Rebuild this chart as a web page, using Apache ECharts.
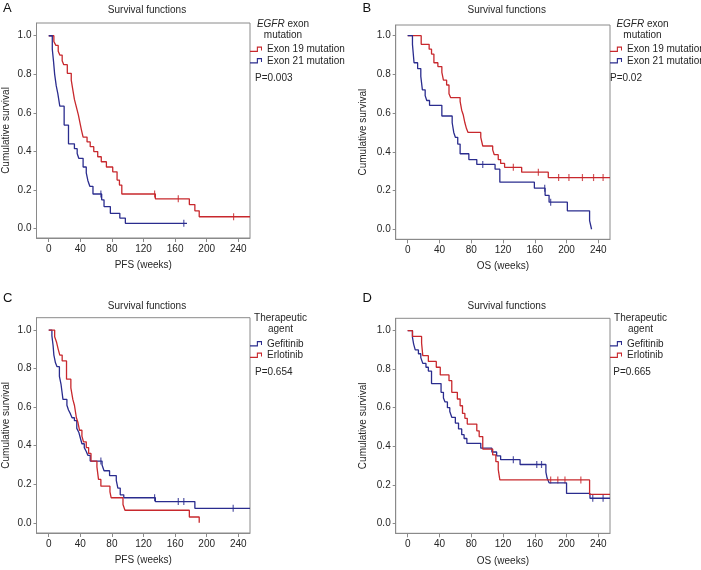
<!DOCTYPE html>
<html><head><meta charset="utf-8">
<script src="https://cdn.jsdelivr.net/npm/echarts@6/dist/echarts.min.js"></script>
<style>html,body{margin:0;padding:0;background:#fff}#c{width:701px;height:570px}</style>
</head><body><div id="c"></div>
<script>
// ---------- data ----------
const xTicks = [0, 40, 80, 120, 160, 200, 240];
const yTicks = [0, 0.2, 0.4, 0.6, 0.8, 1.0];
const mutationNames = ['Exon 19 mutation', 'Exon 21 mutation'];
const agentNames = ['Gefitinib', 'Erlotinib'];
const pValues = ['P=0.003', 'P=0.02', 'P=0.654', 'P=0.665'];
const panelLetters = ['A', 'B', 'C', 'D'];
const xNames = ['PFS (weeks)', 'OS (weeks)', 'PFS (weeks)', 'OS (weeks)'];
const yName = 'Cumulative survival';
const titleText = 'Survival functions';

// Panel A: PFS by EGFR exon mutation  [week, survival]
const aExon19 = [[0,1],[6.5,0.97],[9,0.95],[12,0.92],[14,0.90],[17,0.87],[19,0.85],[23.5,0.805],[28.5,0.77],[30.5,0.72],[32.5,0.67],[35,0.63],[37.5,0.59],[40,0.54],[41.5,0.51],[43.5,0.475],[48.5,0.45],[52.5,0.425],[57,0.40],[62,0.373],[66.5,0.347],[73,0.32],[81,0.295],[86.5,0.252],[89.5,0.226],[92.5,0.18],[135,0.155],[178,0.125],[185,0.093],[190.5,0.062],[254.8,0.062]];
const aExon19Cens = [134, 164, 234];
const aExon21 = [[0,1],[4.5,0.93],[6,0.87],[7.5,0.80],[9.5,0.74],[11.5,0.70],[14,0.635],[19.5,0.537],[25,0.44],[32.5,0.415],[36,0.39],[38,0.365],[43.5,0.32],[47.5,0.29],[49.5,0.25],[52,0.22],[56,0.18],[67,0.15],[70,0.115],[78,0.08],[90,0.055],[97,0.028],[175,0.028]];
const aExon21Cens = [66, 171];

// Panel B: OS by EGFR exon mutation
const bExon19 = [[0,1],[17,0.955],[27,0.93],[30,0.905],[33,0.86],[38,0.84],[43,0.81],[45,0.77],[49,0.745],[52,0.70],[54,0.68],[66,0.66],[68,0.615],[70,0.59],[72,0.55],[74,0.52],[76,0.50],[92,0.475],[94.5,0.43],[107,0.41],[109,0.385],[114,0.36],[117,0.34],[122,0.32],[143.5,0.295],[177,0.267],[254.7,0.267]];
const bExon19Cens = [133, 164.5, 190, 203, 220, 234, 246];
const bExon21 = [[0,1],[6,0.955],[8,0.86],[12.5,0.83],[16.5,0.79],[18.5,0.72],[22,0.69],[24,0.665],[27.5,0.64],[43,0.585],[56,0.55],[58,0.50],[60,0.475],[63,0.44],[66,0.39],[77,0.36],[87,0.335],[110,0.31],[116,0.243],[159.5,0.212],[173,0.175],[178,0.14],[201,0.095],[229,0.045],[231.5,0.0]];
const bExon21Cens = [94.5, 172.5, 180];

// Panel C: PFS by therapeutic agent
const cGefitinib = [[0,1],[4,0.97],[5.5,0.92],[6.5,0.87],[8.5,0.83],[10.5,0.81],[13.5,0.76],[15.5,0.72],[18,0.64],[23,0.61],[25,0.585],[27.5,0.565],[29.5,0.545],[32.5,0.53],[35.5,0.49],[38,0.47],[40,0.44],[42,0.41],[45,0.39],[47.5,0.37],[49.5,0.35],[52.5,0.32],[67.5,0.30],[70,0.27],[77,0.245],[85.5,0.22],[87.5,0.18],[90.5,0.145],[95,0.13],[135,0.11],[185,0.075],[254.8,0.075]];
const cGefitinibCens = [66, 134, 164, 171, 233.5];
const cErlotinib = [[0,1],[7.5,0.965],[10,0.935],[12,0.90],[14,0.87],[17,0.84],[22.5,0.745],[28,0.70],[30.5,0.64],[32.5,0.61],[35,0.545],[37,0.52],[39,0.48],[42,0.45],[44,0.42],[47.5,0.39],[50.5,0.36],[53.5,0.32],[61,0.29],[63,0.225],[66,0.19],[77.5,0.16],[79,0.13],[94,0.095],[96.5,0.065],[178,0.03],[190.5,0.0]];
const cErlotinibCens = [];

// Panel D: OS by therapeutic agent
const dGefitinib = [[0,1],[6,0.965],[7.5,0.93],[9.5,0.90],[13.5,0.88],[16.5,0.86],[19,0.83],[23,0.81],[26,0.79],[30,0.725],[42,0.68],[45,0.65],[47,0.63],[50,0.60],[53,0.58],[55.5,0.55],[60,0.52],[64,0.49],[68,0.46],[71,0.44],[74.5,0.415],[92,0.39],[106,0.37],[112,0.35],[117,0.33],[141.5,0.305],[174,0.265],[175.5,0.235],[178,0.21],[200,0.155],[229.5,0.13],[254.7,0.13]];
const dGefitinibCens = [133, 162.5, 168.5, 233, 246];
const dErlotinib = [[0,1],[6,0.97],[17.5,0.935],[19,0.87],[26,0.84],[36,0.81],[41,0.77],[52,0.74],[55.5,0.68],[62.5,0.645],[66,0.61],[69,0.57],[72,0.545],[75,0.515],[87,0.48],[90,0.45],[94.5,0.385],[107,0.355],[111,0.32],[114,0.28],[116,0.225],[229,0.15],[254.7,0.15]];
const dErlotinibCens = [180, 189, 198, 218];

// ---------- styling / layout ----------
const RED = '#c8282d', BLUE = '#2a2c8e';
const FONT = '"Liberation Sans", Arial, Helvetica, sans-serif';
const AX = '#8a8a8a';
const TXT = '#262626';

const panels = [
  {grid:{left:36,top:23,width:214,height:215}, x:[-15.5,254.8], y:[-0.048,1.066], yGap:25.5, xGap:22,
   groups:[{name:mutationNames[0],color:RED,curve:aExon19,cens:aExon19Cens},{name:mutationNames[1],color:BLUE,curve:aExon21,cens:aExon21Cens}],
   legend:{left:250,top:43.5}, head:['{i|EGFR} exon','mutation'], headX:283, headY:24.3, pX:255, pY:78, letter:[3,8], titleXY:[147,10]},
  {grid:{left:395.7,top:25,width:214.3,height:214.3}, x:[-15.1,254.7], y:[-0.052,1.055], yGap:27, xGap:21.5,
   groups:[{name:mutationNames[0],color:RED,curve:bExon19,cens:bExon19Cens},{name:mutationNames[1],color:BLUE,curve:bExon21,cens:bExon21Cens}],
   legend:{left:610,top:43.5}, head:['{i|EGFR} exon','mutation'], headX:642.5, headY:24.3, pX:610, pY:78, letter:[362.5,8.5], titleXY:[506.7,10]},
  {grid:{left:36,top:317.7,width:214,height:215.3}, x:[-15.5,254.8], y:[-0.053,1.064], yGap:25.5, xGap:22.5,
   groups:[{name:agentNames[0],color:BLUE,curve:cGefitinib,cens:cGefitinibCens},{name:agentNames[1],color:RED,curve:cErlotinib,cens:cErlotinibCens}],
   legend:{left:250,top:338}, head:['Therapeutic','agent'], headX:280.5, headY:318.3, pX:255, pY:372.3, letter:[3,298], titleXY:[147,306]},
  {grid:{left:395.7,top:318.3,width:214.3,height:215}, x:[-15.1,254.7], y:[-0.052,1.064], yGap:27, xGap:22.5,
   groups:[{name:agentNames[0],color:BLUE,curve:dGefitinib,cens:dGefitinibCens},{name:agentNames[1],color:RED,curve:dErlotinib,cens:dErlotinibCens}],
   legend:{left:610,top:338}, head:['Therapeutic','agent'], headX:640.5, headY:318.3, pX:613.3, pY:372.3, letter:[362.5,298], titleXY:[506.7,306]}
];

function survAt(curve, t) {
  let s = curve[0][1];
  for (const p of curve) { if (p[0] <= t) s = p[1]; }
  return s;
}

const legendIcon = 'path://M0,5 H7.4 V0.4 H13 V4.6 H11.9 V1.6 H8.6 V6.2 H0 Z';

const option = {
  backgroundColor: '#fff',
  animation: false,
  grid: [], xAxis: [], yAxis: [], series: [], legend: [], graphic: []
};

panels.forEach((p, i) => {
  option.grid.push(Object.assign({show:true, borderColor:AX, borderWidth:1, containLabel:false}, p.grid));
  option.xAxis.push({
    type:'value', gridIndex:i, min:p.x[0], max:p.x[1],
    name:xNames[i], nameLocation:'middle', nameGap:p.xGap,
    nameTextStyle:{fontSize:10, fontFamily:FONT, color:TXT},
    axisLine:{show:true, onZero:false, lineStyle:{color:AX, width:1}},
    axisTick:{show:true, length:4, customValues:xTicks, lineStyle:{color:AX}},
    axisLabel:{customValues:xTicks, fontSize:10, fontFamily:FONT, color:TXT, margin:6},
    splitLine:{show:false}
  });
  option.yAxis.push({
    type:'value', gridIndex:i, min:p.y[0], max:p.y[1],
    name:yName, nameLocation:'middle', nameGap:p.yGap, nameRotate:90,
    nameTextStyle:{fontSize:10, fontFamily:FONT, color:TXT},
    axisLine:{show:true, onZero:false, lineStyle:{color:AX, width:1}},
    axisTick:{show:true, length:3, customValues:yTicks, lineStyle:{color:AX}},
    axisLabel:{customValues:yTicks, fontSize:10, fontFamily:FONT, color:TXT, margin:5,
      formatter:v => v.toFixed(1)},
    splitLine:{show:false}
  });
  p.groups.forEach(g => {
    option.series.push({
      type:'line', name:g.name, xAxisIndex:i, yAxisIndex:i, step:'end',
      data:g.curve, symbol:'none', showSymbol:false,
      lineStyle:{color:g.color, width:1.3}, itemStyle:{color:g.color},
      silent:true
    });
    if (g.cens.length) {
      option.series.push({
        type:'scatter', name:g.name + ' censored', xAxisIndex:i, yAxisIndex:i,
        data:g.cens.map(t => [t, survAt(g.curve, t)]),
        symbol:'rect', symbolSize:[1.2, 7],
        itemStyle:{color:g.color}, silent:true
      });
    }
  });
  option.legend.push({
    orient:'vertical', left:p.legend.left, top:p.legend.top, padding:0,
    itemWidth:12, itemHeight:7, itemGap:0, selectedMode:false,
    textStyle:{fontSize:10, fontFamily:FONT, color:TXT, lineHeight:11.5},
    data:p.groups.map(g => ({name:g.name, icon:legendIcon}))
  });
  // title
  option.graphic.push({type:'text', silent:true, style:{
    text:titleText, x:p.titleXY[0], y:p.titleXY[1], align:'center', verticalAlign:'middle',
    fontSize:10, fontFamily:FONT, fill:TXT}});
  // panel letter
  option.graphic.push({type:'text', silent:true, style:{
    text:panelLetters[i], x:p.letter[0], y:p.letter[1], align:'left', verticalAlign:'middle',
    fontSize:13, fontFamily:FONT, fill:'#111'}});
  // legend heading
  option.graphic.push({type:'text', silent:true, style:{
    text:p.head[0], x:p.headX, y:p.headY, align:'center', verticalAlign:'middle',
    fontSize:10, fontFamily:FONT, fill:TXT,
    rich:{i:{fontStyle:'italic', fontSize:10, fontFamily:FONT, fill:TXT}}}});
  option.graphic.push({type:'text', silent:true, style:{
    text:p.head[1], x:p.headX, y:p.headY + 11, align:'center', verticalAlign:'middle',
    fontSize:10, fontFamily:FONT, fill:TXT}});
  // p value
  option.graphic.push({type:'text', silent:true, style:{
    text:pValues[i], x:p.pX, y:p.pY, align:'left', verticalAlign:'middle',
    fontSize:10, fontFamily:FONT, fill:TXT}});
});

const chart = echarts.init(document.getElementById('c'), null, {renderer:'canvas'});
chart.setOption(option);
</script>
</body></html>
